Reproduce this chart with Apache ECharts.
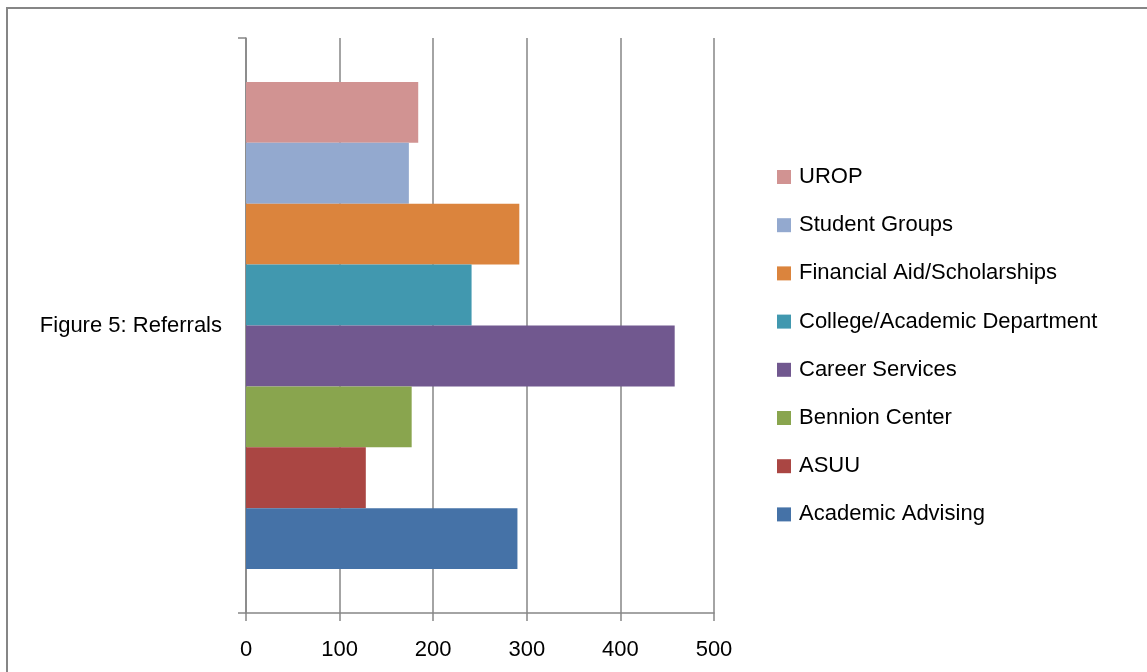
<!DOCTYPE html>
<html>
<head>
<meta charset="utf-8">
<script src="https://cdn.jsdelivr.net/npm/echarts@6/dist/echarts.min.js"></script>
<style>
  html, body { margin: 0; padding: 0; background: #fff; }
  #chart { width: 1147px; height: 672px; }
</style>
</head>
<body>
<div id="chart"></div>
<script>
// Referral counts by source, one category row; listed top to bottom
const categories = ['Figure 5: Referrals'];
const seriesNames = [
  'UROP', 'Student Groups', 'Financial Aid/Scholarships', 'College/Academic Department',
  'Career Services', 'Bennion Center', 'ASUU', 'Academic Advising'
];
const seriesValues = [
  [184], [174], [292], [241], [458], [177], [128], [290]
];
const seriesColors = [
  '#D19392', '#93A9CF', '#DB843D', '#4198AF',
  '#71588F', '#89A54E', '#AA4643', '#4572A7'
];
const xTicks = { min: 0, max: 500, interval: 100 };

const FONT = 'Liberation Sans';
const GRAY = '#868686';

const chart = echarts.init(document.getElementById('chart'), null, { renderer: 'canvas' });

const series = seriesNames.map((name, i) => ({
  name: name,
  type: 'bar',
  data: seriesValues[i],
  barGap: '0%',
  barCategoryGap: '15.3%',
  itemStyle: { color: seriesColors[i] },
  emphasis: { disabled: true }
}));

chart.setOption({
  animation: false,
  grid: { left: 246, right: 433, top: 38, bottom: 59, containLabel: false },
  xAxis: {
    type: 'value',
    min: xTicks.min, max: xTicks.max, interval: xTicks.interval,
    axisLine: { show: true, lineStyle: { color: GRAY, width: 1.5 } },
    axisTick: { show: true, length: 8, lineStyle: { color: GRAY, width: 1.5 } },
    splitLine: { show: true, lineStyle: { color: GRAY, width: 1.5 } },
    axisLabel: { color: '#000', fontFamily: FONT, fontSize: 22, margin: 26 }
  },
  yAxis: {
    type: 'category',
    data: categories,
    boundaryGap: true,
    axisLine: { show: true, lineStyle: { color: GRAY, width: 1.5 } },
    axisTick: { show: true, length: 8, lineStyle: { color: GRAY, width: 1.5 } },
    axisLabel: { color: '#000', fontFamily: FONT, fontSize: 22, margin: 24 }
  },
  legend: {
    orient: 'vertical',
    left: 777,
    top: 164,
    padding: 0,
    itemWidth: 14,
    itemHeight: 14,
    itemGap: 22.2,
    icon: 'rect',
    data: seriesNames,
    textStyle: { color: '#000', fontFamily: FONT, fontSize: 22, lineHeight: 26, padding: [0, 0, 0, 3] },
    selectedMode: false
  },
  graphic: [{
    type: 'rect',
    shape: { x: 7, y: 8, width: 1200, height: 720 },
    style: { fill: 'none', stroke: GRAY, lineWidth: 2 },
    silent: true
  }],
  series: series
});
</script>
</body>
</html>
